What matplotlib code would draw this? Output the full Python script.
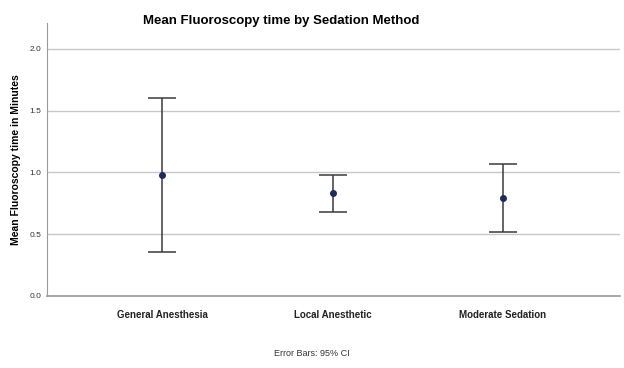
import numpy as np
import matplotlib.pyplot as plt

# sedation methods and mean fluoroscopy time with 95% CI bounds
methods = ['General Anesthesia', 'Local Anesthetic', 'Moderate Sedation']
means = [0.98, 0.83, 0.79]
ci_low = [0.355, 0.68, 0.515]
ci_high = [1.605, 0.98, 1.07]
yticks = [0.0, 0.5, 1.0, 1.5, 2.0]

plt.rcParams['font.family'] = ['Liberation Sans', 'DejaVu Sans']

fig = plt.figure(figsize=(6.24, 3.68), dpi=100)
ax = fig.add_axes([0.0753, 0.1957, 0.918, 0.742])

x = np.arange(len(methods))
m = np.array(means)
err = np.vstack([m - np.array(ci_low), np.array(ci_high) - m])

ax.errorbar(x, m, yerr=err, fmt='o', color='#1f2b5e', ms=4,
            mec='#1f2b5e', ecolor='#3a3a3a', elinewidth=1.1,
            capsize=10, capthick=1.1, zorder=3)

ax.set_xlim(-0.675, 2.685)
ax.set_ylim(0, 2.21)
ax.set_yticks(yticks)
ax.set_yticklabels([f'{v:.1f}' for v in yticks], fontsize=6, color='#333333')
ax.set_xticks(x)
ax.set_xticklabels(methods, fontsize=7, fontweight='bold', color='#222222')
ax.tick_params(axis='x', length=0, pad=10)
ax.tick_params(axis='y', length=0, pad=4)

ax.grid(axis='y', color='#c8c8c8', linewidth=1)
ax.set_axisbelow(True)
for s in ['top', 'right']:
    ax.spines[s].set_visible(False)
ax.spines['left'].set_color('#9a9a9a')
ax.spines['bottom'].set_color('#9a9a9a')
ax.spines['bottom'].set_linewidth(1.2)

ax.set_ylabel('Mean Fluoroscopy time in Minutes', fontsize=7.5,
              fontweight='bold', labelpad=6)

fig.text(0.451, 0.943, 'Mean Fluoroscopy time by Sedation Method',
         ha='center', va='center', fontsize=9.5, fontweight='bold')
fig.text(0.499, 0.04, 'Error Bars: 95% CI', ha='center', va='center',
         fontsize=6.5, color='#333333')

fig.savefig('out.png', dpi=100)
